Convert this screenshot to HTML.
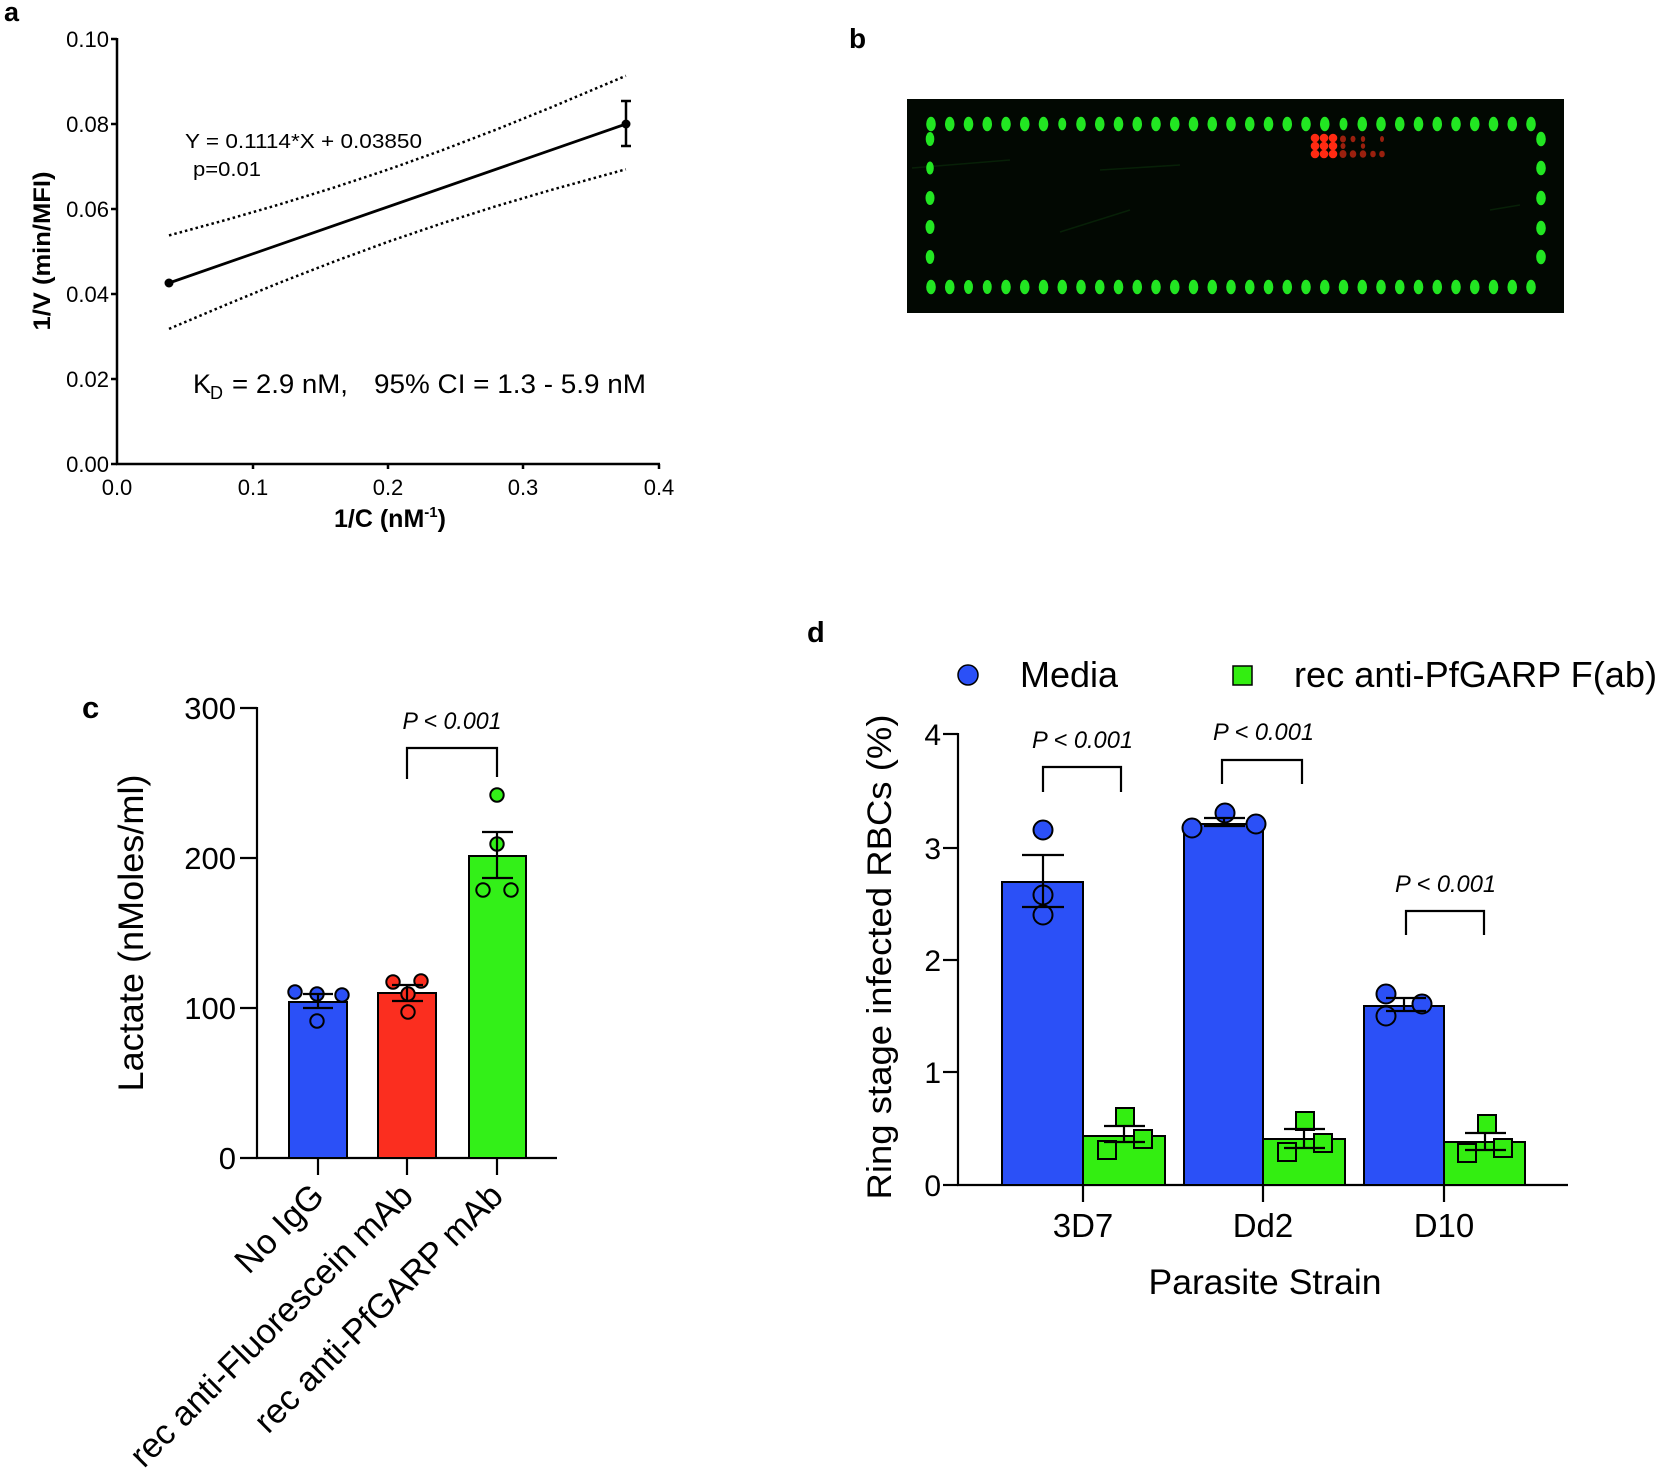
<!DOCTYPE html>
<html><head><meta charset="utf-8"><style>
html,body{margin:0;padding:0;background:#fff;}
svg{display:block;}
text{font-family:"Liberation Sans",Arial,sans-serif;fill:#000;}
</style></head><body>
<svg width="1659" height="1470" viewBox="0 0 1659 1470" xmlns="http://www.w3.org/2000/svg">
<rect width="1659" height="1470" fill="#fff"/>

<!-- ============ PANEL A ============ -->
<text x="4" y="21" font-size="27" font-weight="bold">a</text>
<g stroke="#000" stroke-width="2.5" fill="none">
  <line x1="117" y1="38" x2="117" y2="465"/>
  <line x1="116" y1="464" x2="660" y2="464"/>
  <line x1="111" y1="39" x2="117" y2="39"/>
  <line x1="111" y1="124" x2="117" y2="124"/>
  <line x1="111" y1="209" x2="117" y2="209"/>
  <line x1="111" y1="294" x2="117" y2="294"/>
  <line x1="111" y1="379" x2="117" y2="379"/>
  <line x1="111" y1="464" x2="117" y2="464"/>
  <line x1="253" y1="464" x2="253" y2="469"/>
  <line x1="388" y1="464" x2="388" y2="469"/>
  <line x1="523" y1="464" x2="523" y2="469"/>
  <line x1="659" y1="464" x2="659" y2="469"/>
</g>
<g font-size="22" text-anchor="end">
  <text x="109" y="47">0.10</text>
  <text x="109" y="132">0.08</text>
  <text x="109" y="217">0.06</text>
  <text x="109" y="302">0.04</text>
  <text x="109" y="387">0.02</text>
  <text x="109" y="472">0.00</text>
</g>
<g font-size="22" text-anchor="middle">
  <text x="117" y="495">0.0</text>
  <text x="253" y="495">0.1</text>
  <text x="388" y="495">0.2</text>
  <text x="523" y="495">0.3</text>
  <text x="659" y="495">0.4</text>
</g>
<text transform="translate(50,251) rotate(-90)" text-anchor="middle" font-size="24" font-weight="bold" textLength="159" lengthAdjust="spacingAndGlyphs">1/V (min/MFI)</text>
<text x="334" y="527" font-size="25" font-weight="bold">1/C (nM<tspan font-size="15" dy="-10">-1</tspan><tspan dy="10">)</tspan></text>

<!-- confidence band -->
<g stroke="#000" stroke-width="2.5" fill="none" stroke-dasharray="2.5,3">
  <polyline points="169,235.4 225.4,220.1 279.6,204.4 333.8,187.6 388,169.6 442.2,150.2 496.4,129.5 550.6,107.6 625.9,75.8"/>
  <polyline points="169,328.9 225.4,305.0 279.6,282.7 333.8,261.7 388,241.8 442.2,223.3 496.4,206.1 550.6,190.1 625.9,169.3"/>
</g>
<line x1="169" y1="283" x2="626" y2="124" stroke="#000" stroke-width="2.8"/>
<circle cx="169" cy="283" r="4.5" fill="#000"/>
<circle cx="626" cy="124" r="4.5" fill="#000"/>
<g stroke="#000" stroke-width="2.5">
  <line x1="626" y1="101" x2="626" y2="146"/>
  <line x1="621" y1="101" x2="631" y2="101"/>
  <line x1="621" y1="146" x2="631" y2="146"/>
</g>
<text x="185" y="148" font-size="20" textLength="237" lengthAdjust="spacingAndGlyphs">Y = 0.1114*X + 0.03850</text>
<text x="193" y="176" font-size="20" textLength="68" lengthAdjust="spacingAndGlyphs">p=0.01</text>
<text x="193" y="393" font-size="27">K</text>
<text x="210" y="399" font-size="18">D</text>
<text x="232" y="393" font-size="27" textLength="116" lengthAdjust="spacingAndGlyphs">= 2.9 nM,</text>
<text x="374" y="393" font-size="27" textLength="272" lengthAdjust="spacingAndGlyphs">95% CI = 1.3 - 5.9 nM</text>

<!-- ============ PANEL B ============ -->
<text x="849" y="48" font-size="28" font-weight="bold">b</text>
<rect x="907" y="99" width="657" height="214" fill="#020802"/>
<g stroke="#0b300b" stroke-width="1.5" fill="none" opacity="0.6">
  <line x1="912" y1="168" x2="1010" y2="160"/>
  <line x1="1060" y1="232" x2="1130" y2="210"/>
  <line x1="1490" y1="210" x2="1520" y2="205"/>
  <line x1="1100" y1="170" x2="1180" y2="165"/>
</g>
<g fill="#22e622">
  <ellipse cx="931" cy="124" rx="4.8" ry="7.3"/><ellipse cx="949.75" cy="124" rx="4.8" ry="7.3"/><ellipse cx="968.5" cy="124" rx="4.8" ry="7.3"/><ellipse cx="987.25" cy="124" rx="4.8" ry="7.3"/><ellipse cx="1006" cy="124" rx="4.8" ry="7.3"/><ellipse cx="1024.75" cy="124" rx="4.8" ry="7.3"/><ellipse cx="1043.5" cy="124" rx="4.8" ry="7.3"/><ellipse cx="1062.25" cy="124" rx="4" ry="6.3"/><ellipse cx="1081" cy="124" rx="4.8" ry="7.3"/><ellipse cx="1099.75" cy="124" rx="4.8" ry="7.3"/><ellipse cx="1118.5" cy="124" rx="4.8" ry="7.3"/><ellipse cx="1137.25" cy="124" rx="4.8" ry="7.3"/><ellipse cx="1156" cy="124" rx="4.8" ry="7.3"/><ellipse cx="1174.75" cy="124" rx="4.8" ry="7.3"/><ellipse cx="1193.5" cy="124" rx="4.8" ry="7.3"/><ellipse cx="1212.25" cy="124" rx="4.8" ry="7.3"/><ellipse cx="1231" cy="124" rx="4.8" ry="7.3"/><ellipse cx="1249.75" cy="124" rx="4.8" ry="7.3"/><ellipse cx="1268.5" cy="124" rx="4.8" ry="7.3"/><ellipse cx="1287.25" cy="124" rx="4.8" ry="7.3"/><ellipse cx="1306" cy="124" rx="4.8" ry="7.3"/><ellipse cx="1324.75" cy="124" rx="4.8" ry="7.3"/><ellipse cx="1343.5" cy="124" rx="4" ry="6.3"/><ellipse cx="1362.25" cy="124" rx="4.8" ry="7.3"/><ellipse cx="1381" cy="124" rx="4.8" ry="7.3"/><ellipse cx="1399.75" cy="124" rx="4.8" ry="7.3"/><ellipse cx="1418.5" cy="124" rx="4.8" ry="7.3"/><ellipse cx="1437.25" cy="124" rx="4.8" ry="7.3"/><ellipse cx="1456" cy="124" rx="4.8" ry="7.3"/><ellipse cx="1474.75" cy="124" rx="4.8" ry="7.3"/><ellipse cx="1493.5" cy="124" rx="4.8" ry="7.3"/><ellipse cx="1512.25" cy="124" rx="4.8" ry="7.3"/><ellipse cx="1531" cy="124" rx="4.8" ry="7.3"/>
  <ellipse cx="931" cy="287" rx="4.8" ry="7.3"/><ellipse cx="949.75" cy="287" rx="4.8" ry="7.3"/><ellipse cx="968.5" cy="287" rx="4.5" ry="7"/><ellipse cx="987.25" cy="287" rx="4.5" ry="7"/><ellipse cx="1006" cy="287" rx="4.8" ry="7.3"/><ellipse cx="1024.75" cy="287" rx="4.8" ry="7.3"/><ellipse cx="1043.5" cy="287" rx="4.8" ry="7.3"/><ellipse cx="1062.25" cy="287" rx="4.8" ry="7.3"/><ellipse cx="1081" cy="287" rx="4.8" ry="7.3"/><ellipse cx="1099.75" cy="287" rx="4.8" ry="7.3"/><ellipse cx="1118.5" cy="287" rx="4.8" ry="7.3"/><ellipse cx="1137.25" cy="287" rx="4.8" ry="7.3"/><ellipse cx="1156" cy="287" rx="4.8" ry="7.3"/><ellipse cx="1174.75" cy="287" rx="4.8" ry="7.3"/><ellipse cx="1193.5" cy="287" rx="4.8" ry="7.3"/><ellipse cx="1212.25" cy="287" rx="4.8" ry="7.3"/><ellipse cx="1231" cy="287" rx="4.8" ry="7.3"/><ellipse cx="1249.75" cy="287" rx="4.8" ry="7.3"/><ellipse cx="1268.5" cy="287" rx="4.8" ry="7.3"/><ellipse cx="1287.25" cy="287" rx="4.8" ry="7.3"/><ellipse cx="1306" cy="287" rx="4.8" ry="7.3"/><ellipse cx="1324.75" cy="287" rx="4.8" ry="7.3"/><ellipse cx="1343.5" cy="287" rx="4.8" ry="7.3"/><ellipse cx="1362.25" cy="287" rx="4.8" ry="7.3"/><ellipse cx="1381" cy="287" rx="4.8" ry="7.3"/><ellipse cx="1399.75" cy="287" rx="4.8" ry="7.3"/><ellipse cx="1418.5" cy="287" rx="4.8" ry="7.3"/><ellipse cx="1437.25" cy="287" rx="4.8" ry="7.3"/><ellipse cx="1456" cy="287" rx="4.8" ry="7.3"/><ellipse cx="1474.75" cy="287" rx="4.8" ry="7.3"/><ellipse cx="1493.5" cy="287" rx="4.8" ry="7.3"/><ellipse cx="1512.25" cy="287" rx="4.8" ry="7.3"/><ellipse cx="1531" cy="287" rx="4.8" ry="7.3"/>
  <ellipse cx="930" cy="139" rx="4.3" ry="7"/><ellipse cx="930" cy="168" rx="3.8" ry="6.5"/><ellipse cx="930" cy="198" rx="4.5" ry="7"/><ellipse cx="930" cy="227" rx="4.5" ry="7"/><ellipse cx="930" cy="257" rx="4.3" ry="7"/>
  <ellipse cx="1541" cy="139" rx="4.8" ry="7.3"/><ellipse cx="1541" cy="168" rx="4.8" ry="7.3"/><ellipse cx="1541" cy="198" rx="4.8" ry="7.3"/><ellipse cx="1541" cy="228" rx="4.8" ry="7.3"/><ellipse cx="1541" cy="257" rx="4.8" ry="7.3"/>
</g>
<g fill="#ff2a12">
  <ellipse cx="1315" cy="138" rx="4.3" ry="4.3"/><ellipse cx="1324" cy="138" rx="4.3" ry="4.3"/><ellipse cx="1333" cy="138" rx="4.3" ry="4.3"/>
  <ellipse cx="1315" cy="146" rx="4.3" ry="4.3"/><ellipse cx="1324" cy="146" rx="4.3" ry="4.3"/><ellipse cx="1333" cy="146" rx="4.3" ry="4.3"/>
  <ellipse cx="1315" cy="154" rx="4.3" ry="4.3"/><ellipse cx="1324" cy="154" rx="4.3" ry="4.3"/><ellipse cx="1333" cy="154" rx="4.3" ry="4.3"/>
</g>
<g fill="#9a200e">
  <ellipse cx="1343" cy="139" rx="3" ry="3.5"/><ellipse cx="1353" cy="139" rx="2.5" ry="3.2"/><ellipse cx="1363" cy="139" rx="2.2" ry="3"/><ellipse cx="1382" cy="139" rx="2" ry="3"/>
  <ellipse cx="1343" cy="154" rx="3.5" ry="4"/><ellipse cx="1353" cy="154" rx="3.3" ry="3.8"/><ellipse cx="1363" cy="154" rx="3.3" ry="3.8"/><ellipse cx="1373" cy="154" rx="2.8" ry="3.3"/><ellipse cx="1382" cy="154" rx="2.8" ry="3.3"/>
  <ellipse cx="1343" cy="146" rx="2.5" ry="3"/><ellipse cx="1363" cy="146" rx="2.2" ry="2.8"/>
</g>

<!-- ============ PANEL C ============ -->
<text x="82" y="718" font-size="31" font-weight="bold">c</text>
<g stroke="#000" stroke-width="2.2" fill="none">
  <line x1="257" y1="707" x2="257" y2="1159"/>
  <line x1="256" y1="1158" x2="557" y2="1158"/>
  <line x1="240" y1="708" x2="257" y2="708"/>
  <line x1="240" y1="858" x2="257" y2="858"/>
  <line x1="240" y1="1008" x2="257" y2="1008"/>
  <line x1="240" y1="1158" x2="257" y2="1158"/>
  <line x1="318" y1="1158" x2="318" y2="1175"/>
  <line x1="407" y1="1158" x2="407" y2="1175"/>
  <line x1="497" y1="1158" x2="497" y2="1175"/>
</g>
<g font-size="31" text-anchor="end">
  <text x="236" y="719">300</text>
  <text x="236" y="869">200</text>
  <text x="236" y="1019">100</text>
  <text x="236" y="1169">0</text>
</g>
<text transform="translate(143,933) rotate(-90)" text-anchor="middle" font-size="35" textLength="317" lengthAdjust="spacingAndGlyphs">Lactate (nMoles/ml)</text>
<g stroke="#000" stroke-width="2">
  <rect x="289" y="1002" width="58" height="156" fill="#2b50f7"/>
  <rect x="378" y="993" width="58" height="165" fill="#fb2e1f"/>
  <rect x="469" y="856" width="57" height="302" fill="#33f018"/>
</g>
<g stroke="#000" stroke-width="2">
  <circle cx="295" cy="992" r="6.7" fill="#2b50f7"/><circle cx="317" cy="994" r="6.7" fill="#2b50f7"/><circle cx="342" cy="995" r="6.7" fill="#2b50f7"/><circle cx="317" cy="1021" r="6.7" fill="#2b50f7"/>
  <circle cx="393" cy="982" r="6.7" fill="#fb2e1f"/><circle cx="421" cy="981" r="6.7" fill="#fb2e1f"/><circle cx="408" cy="994" r="6.7" fill="#fb2e1f"/><circle cx="408" cy="1012" r="6.7" fill="#fb2e1f"/>
  <circle cx="497" cy="795" r="6.7" fill="#33f018"/><circle cx="497" cy="844" r="6.7" fill="#33f018"/><circle cx="483" cy="890" r="6.7" fill="#33f018"/><circle cx="511" cy="890" r="6.7" fill="#33f018"/>
</g>
<g stroke="#000" stroke-width="2.2" fill="none">
  <path d="M318 994 V1008 M303 994 H333 M303 1008 H333"/>
  <path d="M407 985 V1001 M392 985 H423 M392 1001 H423"/>
  <path d="M497 832 V878 M482 832 H513 M482 878 H513"/>
  <path d="M407 779 V748 H497 V777"/>
</g>
<text x="452" y="729" font-size="24" font-style="italic" text-anchor="middle" textLength="99" lengthAdjust="spacingAndGlyphs">P &lt; 0.001</text>
<g font-size="34.5" text-anchor="end">
  <text transform="translate(326,1198) rotate(-45)">No IgG</text>
  <text transform="translate(415,1198) rotate(-45)">rec anti-Fluorescein mAb</text>
  <text transform="translate(505,1198) rotate(-45)">rec anti-PfGARP mAb</text>
</g>

<!-- ============ PANEL D ============ -->
<text x="807" y="642" font-size="29" font-weight="bold">d</text>
<circle cx="968" cy="675" r="10" fill="#2b50f7" stroke="#000" stroke-width="1.5"/>
<text x="1020" y="687" font-size="36" textLength="98" lengthAdjust="spacingAndGlyphs">Media</text>
<rect x="1233" y="666" width="19" height="19" fill="#33ee11" stroke="#000" stroke-width="1.5"/>
<text x="1294" y="687" font-size="36" textLength="363" lengthAdjust="spacingAndGlyphs">rec anti-PfGARP F(ab)</text>

<g stroke="#000" stroke-width="2.2" fill="none">
  <line x1="958" y1="733" x2="958" y2="1186"/>
  <line x1="957" y1="1185" x2="1568" y2="1185"/>
  <line x1="943" y1="734" x2="958" y2="734"/>
  <line x1="943" y1="848" x2="958" y2="848"/>
  <line x1="943" y1="960" x2="958" y2="960"/>
  <line x1="943" y1="1072" x2="958" y2="1072"/>
  <line x1="943" y1="1185" x2="958" y2="1185"/>
  <line x1="1083" y1="1185" x2="1083" y2="1202"/>
  <line x1="1263" y1="1185" x2="1263" y2="1202"/>
  <line x1="1444" y1="1185" x2="1444" y2="1202"/>
</g>
<g font-size="30" text-anchor="end">
  <text x="941" y="745">4</text>
  <text x="941" y="859">3</text>
  <text x="941" y="971">2</text>
  <text x="941" y="1083">1</text>
  <text x="941" y="1196">0</text>
</g>
<text transform="translate(891,957) rotate(-90)" text-anchor="middle" font-size="34" textLength="485" lengthAdjust="spacingAndGlyphs">Ring stage infected RBCs (%)</text>
<g font-size="33" text-anchor="middle">
  <text x="1083" y="1237">3D7</text>
  <text x="1263" y="1237">Dd2</text>
  <text x="1444" y="1237">D10</text>
</g>
<text x="1265" y="1294" font-size="35" text-anchor="middle" textLength="233" lengthAdjust="spacingAndGlyphs">Parasite Strain</text>

<g stroke="#000" stroke-width="2">
  <rect x="1002" y="882" width="81" height="303" fill="#2b50f7"/>
  <rect x="1083" y="1136" width="82" height="49" fill="#33ee11"/>
  <rect x="1184" y="824" width="79" height="361" fill="#2b50f7"/>
  <rect x="1263" y="1139" width="82" height="46" fill="#33ee11"/>
  <rect x="1364" y="1006" width="80" height="179" fill="#2b50f7"/>
  <rect x="1444" y="1142" width="81" height="43" fill="#33ee11"/>
</g>
<g stroke="#000" stroke-width="2" fill="#2b50f7">
  <circle cx="1043" cy="830" r="9.5"/><circle cx="1043" cy="895" r="9.5"/><circle cx="1043" cy="915" r="9.5"/>
  <circle cx="1192" cy="828" r="9.5"/><circle cx="1225" cy="813" r="9.5"/><circle cx="1256" cy="824" r="9.5"/>
  <circle cx="1386" cy="994" r="9.5"/><circle cx="1386" cy="1016" r="9.5"/><circle cx="1422" cy="1004" r="9.5"/>
</g>
<g stroke="#000" stroke-width="2" fill="#33ee11">
  <rect x="1116" y="1108" width="18" height="18"/><rect x="1098" y="1141" width="18" height="18"/><rect x="1134" y="1130" width="18" height="18"/>
  <rect x="1296" y="1112" width="18" height="18"/><rect x="1278" y="1143" width="18" height="18"/><rect x="1314" y="1134" width="18" height="18"/>
  <rect x="1478" y="1115" width="18" height="18"/><rect x="1458" y="1144" width="18" height="18"/><rect x="1494" y="1139" width="18" height="18"/>
</g>
<g stroke="#000" stroke-width="2.2" fill="none">
  <path d="M1043 855 V907 M1022 855 H1064 M1022 907 H1064"/>
  <path d="M1224 818 V826 M1204 818 H1245 M1204 826 H1245"/>
  <path d="M1404 998 V1011 M1386 998 H1426 M1386 1011 H1426"/>
  <path d="M1124 1126 V1142 M1104 1126 H1145 M1104 1142 H1145"/>
  <path d="M1304 1129 V1148 M1284 1129 H1325 M1284 1148 H1325"/>
  <path d="M1485 1133 V1150 M1465 1133 H1506 M1465 1150 H1506"/>
  <path d="M1043 792 V767 H1121 V792"/>
  <path d="M1222 784 V760 H1302 V784"/>
  <path d="M1406 935 V911 H1484 V935"/>
</g>
<g font-size="24" font-style="italic">
  <text x="1032" y="748" textLength="101" lengthAdjust="spacingAndGlyphs">P &lt; 0.001</text>
  <text x="1213" y="740" textLength="101" lengthAdjust="spacingAndGlyphs">P &lt; 0.001</text>
  <text x="1395" y="892" textLength="101" lengthAdjust="spacingAndGlyphs">P &lt; 0.001</text>
</g>
</svg>
</body></html>
